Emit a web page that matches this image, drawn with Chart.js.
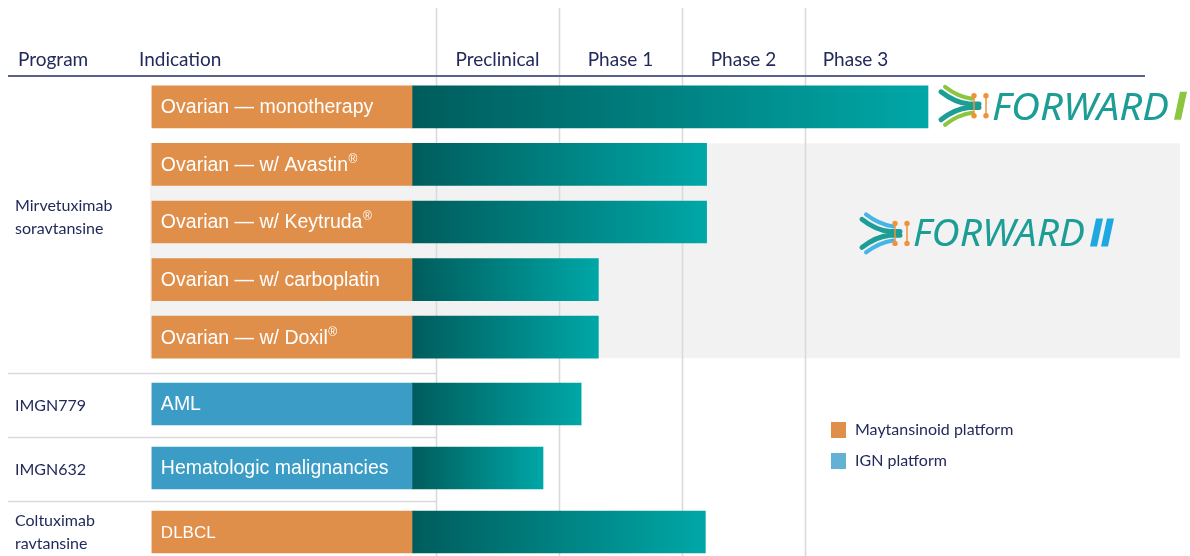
<!DOCTYPE html>
<html lang="en">
<head>
<meta charset="UTF-8">
<title>Pipeline</title>
<script src="https://cdn.jsdelivr.net/npm/chart.js"></script>
<style>
  html, body { margin: 0; padding: 0; background: #fff; overflow: hidden; }
  .wrap { position: relative; width: 1190px; height: 556px; overflow: hidden; }
  #topChart { position: absolute; left: 0; top: 0; }
  #bottomChart { position: absolute; left: 0; top: 366px; }
</style>
</head>
<body>
<div class="wrap">
  <canvas id="topChart" width="1190" height="366"></canvas>
  <canvas id="bottomChart" width="1190" height="198"></canvas>
</div>
<script>
// --- data ---
const phases = ['Preclinical', 'Phase 1', 'Phase 2', 'Phase 3'];
const legendLabels = ['Maytansinoid platform', 'IGN platform'];

const mirvProgram = 'Mirvetuximab soravtansine';
const mirvIndications = ['Ovarian — monotherapy', 'Ovarian — w/ Avastin®', 'Ovarian — w/ Keytruda®', 'Ovarian — w/ carboplatin', 'Ovarian — w/ Doxil®'];
const mirvPlatform = ['Maytansinoid', 'Maytansinoid', 'Maytansinoid', 'Maytansinoid', 'Maytansinoid'];
// progress in phase units: 0 = start of preclinical, 1 = start of phase 1 ...
const mirvProgress = [4.0, 2.2, 2.2, 1.32, 1.32];

const otherPrograms = ['IMGN779', 'IMGN632', 'Coltuximab ravtansine'];
const otherIndications = ['AML', 'Hematologic malignancies', 'DLBCL'];
const otherPlatform = ['IGN', 'IGN', 'Maytansinoid'];
const otherProgress = [1.18, 0.87, 2.19];

// --- look ---
const ORANGE = '#e08f4b';
const BLUE = '#3b9cc5';
const LEGEND_BLUE = '#63b1d3';
const NAVY = '#222a5c';
const GRID = '#dadada';
const X_MIN = -436 / 123, X_MAX = 754 / 123;
const LABEL_START = -2.31, BAR_START = -0.195;
const labelFont = { 'DLBCL': 17 };
const phaseNudge = [0, 0, 0, -11];

function tealGradient(ctx) {
  const chart = ctx.chart;
  if (!chart.chartArea || !ctx.raw) return '#008080';
  const x = chart.scales.x;
  const x0 = x.getPixelForValue(ctx.raw[0]), x1 = x.getPixelForValue(ctx.raw[1]);
  const g = chart.ctx.createLinearGradient(x0, 0, x1, 0);
  g.addColorStop(0, '#005c5c');
  g.addColorStop(1, '#00a7a7');
  return g;
}

function buildData(indications, platform, progress) {
  return {
    labels: indications,
    datasets: [
      { data: indications.map(() => [LABEL_START, BAR_START]),
        backgroundColor: platform.map(p => p === 'IGN' ? BLUE : ORANGE),
        grouped: false, barThickness: 42, borderWidth: 0 },
      { data: progress.map(v => [BAR_START, v]),
        backgroundColor: tealGradient,
        grouped: false, barThickness: 42, borderWidth: 0 }
    ]
  };
}

function drawGrid(chart, y0) {
  const ctx = chart.ctx, x = chart.scales.x;
  ctx.save();
  ctx.strokeStyle = GRID;
  ctx.lineWidth = 1.6;
  for (let i = 0; i < phases.length; i++) {
    const px = Math.round(x.getPixelForValue(i)) + 0.5;
    ctx.beginPath(); ctx.moveTo(px, y0); ctx.lineTo(px, chart.height); ctx.stroke();
  }
  ctx.restore();
}

function drawIndicationLabels(chart, indications) {
  const ctx = chart.ctx;
  const meta = chart.getDatasetMeta(0);
  ctx.save();
  ctx.fillStyle = '#ffffff';
  ctx.textBaseline = 'middle';
  meta.data.forEach((el, i) => {
    const text = indications[i];
    const size = labelFont[text] || 19.5;
    const left = Math.min(el.x, el.base) + 9;
    const parts = text.split('®');
    ctx.font = size + 'px "Liberation Sans", Arial, sans-serif';
    ctx.fillText(parts[0], left, el.y + 1);
    if (parts.length > 1) {
      const w = ctx.measureText(parts[0]).width;
      ctx.font = Math.round(size * 0.62) + 'px "Liberation Sans", Arial, sans-serif';
      ctx.fillText('®', left + w + 0.5, el.y - 5);
    }
  });
  ctx.restore();
}

function drawProgram(ctx, name, x, cy) {
  const lines = name.split(' ');
  ctx.save();
  ctx.fillStyle = NAVY;
  ctx.font = '16px Lato, sans-serif';
  ctx.textBaseline = 'middle';
  const step = 23;
  lines.forEach((l, i) => ctx.fillText(l, x, cy + (i - (lines.length - 1) / 2) * step));
  ctx.restore();
}

function drawLogo(ctx, x, cy, baseline, count, suffixColor, accent, textW) {
  const TEAL = '#1c9d96', ORG = '#f0923a';
  ctx.save();
  ctx.lineCap = 'round';
  for (const s of [-1, 1]) {
    ctx.strokeStyle = accent; ctx.lineWidth = 4;
    ctx.beginPath(); ctx.moveTo(x + 4, cy + s * 19); ctx.quadraticCurveTo(x + 17, cy + s * 9, x + 31, cy + s * 7); ctx.stroke();
    ctx.strokeStyle = TEAL; ctx.lineWidth = 5;
    ctx.beginPath(); ctx.moveTo(x, cy + s * 14); ctx.quadraticCurveTo(x + 14, cy + s * 3, x + 28, cy + s * 1.8); ctx.lineTo(x + 38, cy + s * 1.8); ctx.stroke();
  }
  ctx.strokeStyle = ORG; ctx.fillStyle = ORG; ctx.lineWidth = 1.5;
  for (const dx of [33, 45]) {
    ctx.beginPath(); ctx.moveTo(x + dx, cy - 10); ctx.lineTo(x + dx, cy + 10); ctx.stroke();
    for (const s of [-1, 1]) { ctx.beginPath(); ctx.arc(x + dx, cy + s * 10, 2.7, 0, Math.PI * 2); ctx.fill(); }
  }
  // word mark
  ctx.fillStyle = TEAL;
  ctx.font = 'italic 39px "Noto Sans", sans-serif';
  const tx = x + 51;
  const m = ctx.measureText('FORWARD').width;
  ctx.save();
  ctx.translate(tx, baseline);
  ctx.scale(textW / m, 1);
  ctx.fillText('FORWARD', 0, 0);
  ctx.restore();
  // roman numeral as slanted bars
  ctx.fillStyle = suffixColor;
  const h = 28, w = 7, slant = 6;
  let sx = tx + textW + 5;
  for (let k = 0; k < count; k++) {
    ctx.beginPath();
    ctx.moveTo(sx, baseline);
    ctx.lineTo(sx + w, baseline);
    ctx.lineTo(sx + w + slant, baseline - h);
    ctx.lineTo(sx + slant, baseline - h);
    ctx.closePath();
    ctx.fill();
    sx += w + 4;
  }
  ctx.restore();
}

const topPlugin = {
  id: 'topDecor',
  beforeDatasetsDraw(chart) {
    const ctx = chart.ctx, x = chart.scales.x;
    const bars = chart.getDatasetMeta(0).data;
    // grey band behind the combination trials
    const top = bars[1].y - bars[1].height / 2;
    const bottom = bars[4].y + bars[4].height / 2;
    ctx.save();
    ctx.fillStyle = '#f2f2f2';
    ctx.fillRect(150, top, 1180 - 150, bottom - top);
    ctx.restore();
    drawGrid(chart, 8);
    // header
    ctx.save();
    ctx.strokeStyle = '#5a6090';
    ctx.lineWidth = 2;
    ctx.beginPath(); ctx.moveTo(8, 76); ctx.lineTo(1145, 76); ctx.stroke();
    ctx.fillStyle = NAVY;
    ctx.font = '19px Lato, sans-serif';
    ctx.textBaseline = 'alphabetic';
    ctx.fillText('Program', 18, 66);
    ctx.fillText('Indication', 139, 66);
    ctx.textAlign = 'center';
    phases.forEach((p, i) => {
      const cx = (x.getPixelForValue(i) + x.getPixelForValue(i + 1)) / 2 + phaseNudge[i];
      ctx.fillText(p, cx, 66);
    });
    ctx.restore();
  },
  afterDatasetsDraw(chart) {
    const ctx = chart.ctx, x = chart.scales.x;
    drawIndicationLabels(chart, mirvIndications);
    const area = chart.chartArea;
    drawProgram(ctx, mirvProgram, 15, (area.top + area.bottom) / 2 - 5);
    const bars = chart.getDatasetMeta(1).data;
    const first = bars[0];
    drawLogo(ctx, first.x + 13, first.y - 1, first.y + 13, 1, '#8cc63e', '#8cc63e', 177);
    const boxTop = bars[1].y - bars[1].height / 2;
    drawLogo(ctx, x.getPixelForValue(3) + 57, boxTop + 90, boxTop + 103, 2, '#1ea7e1', '#45b5e6', 172);
  }
};

const bottomPlugin = {
  id: 'bottomDecor',
  beforeDatasetsDraw(chart) {
    const ctx = chart.ctx, x = chart.scales.x;
    drawGrid(chart, 0);
    ctx.save();
    ctx.strokeStyle = GRID;
    ctx.lineWidth = 1.6;
    const band = (chart.chartArea.bottom - chart.chartArea.top) / otherIndications.length;
    for (let i = 0; i < otherIndications.length; i++) {
      const yy = Math.round(chart.chartArea.top + i * band) + 1.5;
      ctx.beginPath(); ctx.moveTo(8, yy); ctx.lineTo(x.getPixelForValue(0), yy); ctx.stroke();
    }
    ctx.restore();
  },
  afterDatasetsDraw(chart) {
    const ctx = chart.ctx, y = chart.scales.y;
    drawIndicationLabels(chart, otherIndications);
    otherPrograms.forEach((p, i) => {
      const lines = p.split(' ').length;
      drawProgram(ctx, p, 15, y.getPixelForValue(i) + (lines > 1 ? 0 : 2));
    });
    // legend
    ctx.save();
    ctx.font = '16px Lato, sans-serif';
    ctx.textBaseline = 'alphabetic';
    const legendColors = [ORANGE, LEGEND_BLUE];
    legendLabels.forEach((l, i) => {
      const top = 56 + i * 31;
      ctx.fillStyle = legendColors[i];
      ctx.fillRect(831, top, 15, 16);
      ctx.fillStyle = NAVY;
      ctx.fillText(l, 855, top + 13);
    });
    ctx.restore();
  }
};

function makeChart(id, data, padTop, plugin) {
  return new Chart(document.getElementById(id), {
    type: 'bar',
    data: data,
    options: {
      indexAxis: 'y',
      responsive: false,
      animation: false,
      devicePixelRatio: 1,
      layout: { padding: { top: padTop, bottom: 0, left: 0, right: 0 } },
      scales: {
        x: { type: 'linear', min: X_MIN, max: X_MAX, display: false },
        y: { display: false }
      },
      plugins: { legend: { display: false }, tooltip: { enabled: false } }
    },
    plugins: [plugin]
  });
}

Promise.all([
  document.fonts.load('16px Lato'),
  document.fonts.load('italic 39px "Noto Sans"'),
  document.fonts.load('19px "Liberation Sans"')
]).catch(() => {}).then(() => {
  makeChart('topChart', buildData(mirvIndications, mirvPlatform, mirvProgress), 78, topPlugin);
  makeChart('bottomChart', buildData(otherIndications, otherPlatform, otherProgress), 6, bottomPlugin);
});
</script>
</body>
</html>
